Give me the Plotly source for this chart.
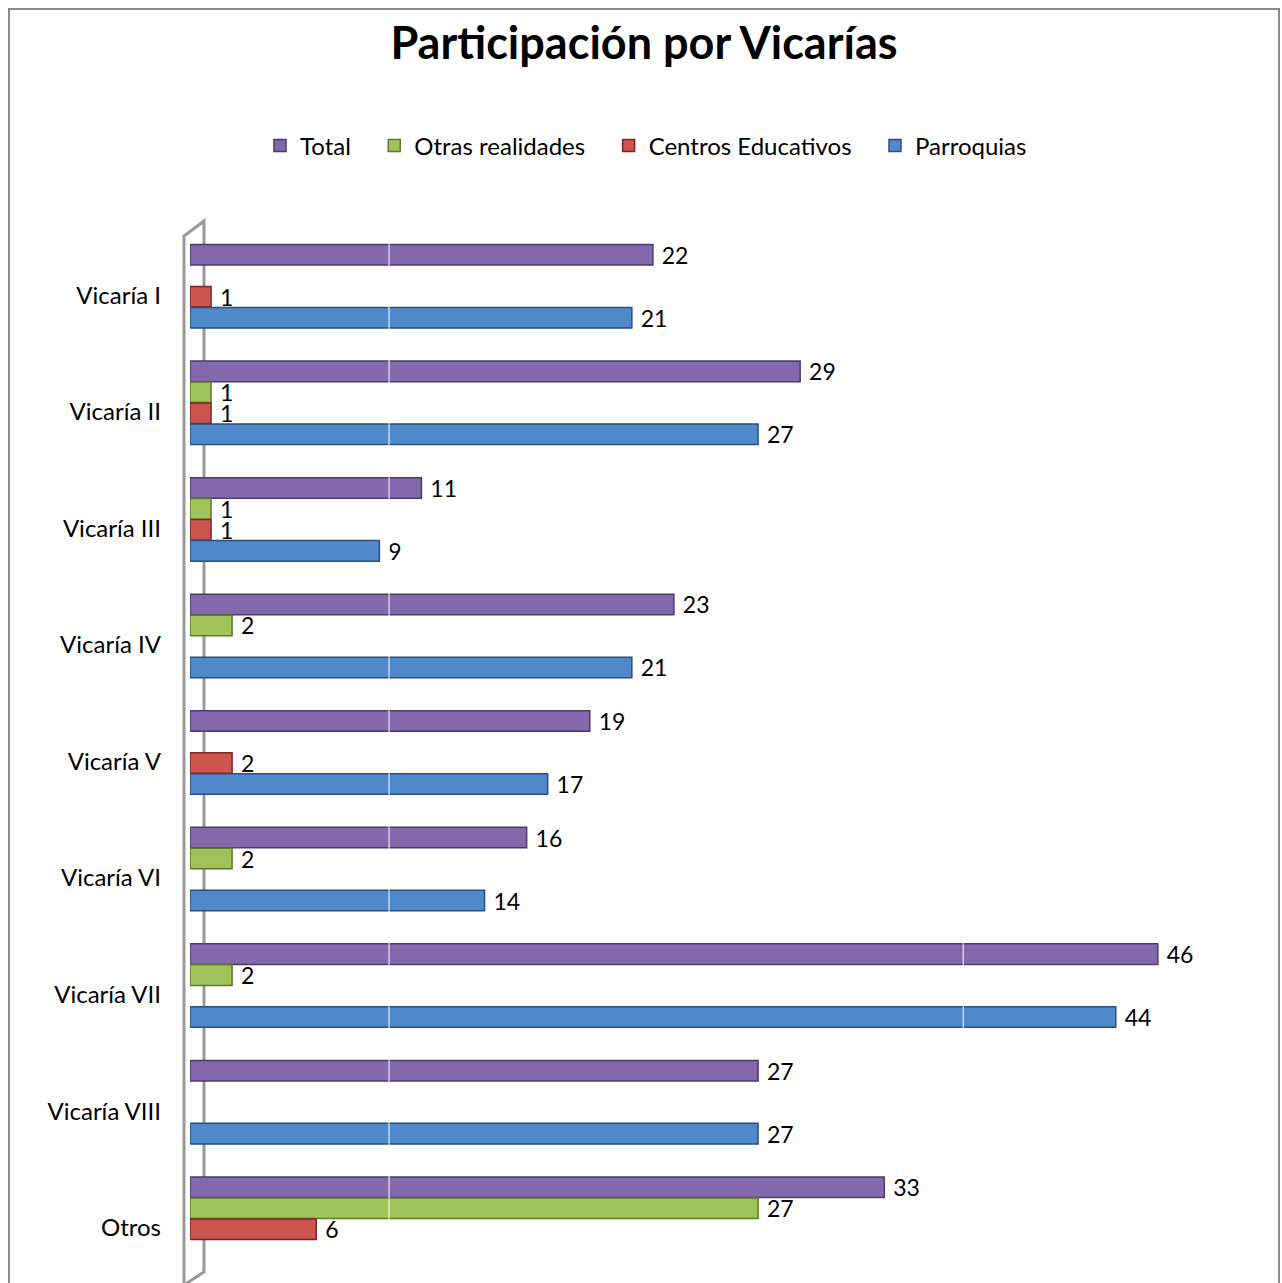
import plotly.graph_objects as go

categories = ["Vicaría I", "Vicaría II", "Vicaría III", "Vicaría IV", "Vicaría V",
              "Vicaría VI", "Vicaría VII", "Vicaría VIII", "Otros"]
total = [22, 29, 11, 23, 19, 16, 46, 27, 33]
otras = [None, 1, 1, 2, None, 2, 2, None, 27]
centros = [1, 1, 1, None, 2, None, None, None, 6]
parroquias = [21, 27, 9, 21, 17, 14, 44, 27, None]

series = [
    ("Total", total, "#8468AC", "#4E3B6B"),
    ("Otras realidades", otras, "#9FC25A", "#5E7A2C"),
    ("Centros Educativos", centros, "#CC5550", "#7A2725"),
    ("Parroquias", parroquias, "#5088CC", "#2B4F7E"),
]

FONT = "Lato, Open Sans, sans-serif"
NB = "\u00a0"

fig = go.Figure()
for name, vals, col, edge in series:
    fig.add_trace(go.Bar(
        name=name + NB * 3, y=categories, x=vals, orientation="h",
        marker=dict(color=col, line=dict(color=edge, width=1.5)),
        text=[("" if v is None else NB + str(v)) for v in vals],
        textposition="outside", cliponaxis=False, constraintext="none",
        textfont=dict(size=23, color="black", family=FONT),
    ))

# page body margin is removed in post_script, so figure pixels == page pixels
FW, FH = 1282, 1283
L, R, T, B = 190, 1242, 228, 1277
W, H = R - L, B - T
def px(x): return (x - L) / W
def py(y): return (B - y) / H

shapes = []
# outer chart border
shapes.append(dict(type="rect", xref="paper", yref="paper",
                   x0=px(9), x1=px(1279), y0=py(1300), y1=py(9),
                   line=dict(color="#8C8C8C", width=2), layer="below"))
# 3D side wall outline
path = (f"M {px(184)},{py(1290)} L {px(184)},{py(236)} L {px(204)},{py(221)} "
        f"L {px(204)},{py(1272)} L {px(184)},{py(1285)}")
shapes.append(dict(type="path", xref="paper", yref="paper", path=path,
                   line=dict(color="#999999", width=3), layer="below"))
# white back-wall gridlines visible through the bars
for gx in (9.46, 36.75):
    shapes.append(dict(type="line", xref="x", yref="paper", x0=gx, x1=gx, y0=0, y1=1,
                       line=dict(color="white", width=1), layer="above"))

fig.update_layout(
    width=FW, height=FH,
    margin=dict(l=L, r=FW - R, t=T, b=FH - B),
    paper_bgcolor="white", plot_bgcolor="white",
    barmode="group", bargap=0.28, bargroupgap=0.02,
    font=dict(family=FONT, size=24, color="black"),
    title=dict(text="<b>Participación por Vicarías</b>", x=644 / FW, xref="container",
               xanchor="center", y=1 - 43 / FH, yanchor="middle",
               font=dict(size=45, family=FONT, color="black")),
    legend=dict(orientation="h", x=655 / FW, xanchor="center", xref="container",
                y=1 - 146 / FH, yref="container", yanchor="middle",
                font=dict(size=24, family=FONT), traceorder="normal",
                itemwidth=30),
    shapes=shapes,
    showlegend=True,
)
fig.update_xaxes(range=[0, 50], showgrid=False, showticklabels=False,
                 zeroline=False, showline=False, ticks="")
fig.update_yaxes(autorange="reversed", showgrid=False, showline=False, ticks="",
                 ticklabelstandoff=28, ticklabelshift=-9,
                 tickfont=dict(size=24, family=FONT, color="black"))

fig.write_html("out.html", config={"displayModeBar": False},
               post_script="document.body.style.margin='0';document.body.style.overflow='hidden';")
